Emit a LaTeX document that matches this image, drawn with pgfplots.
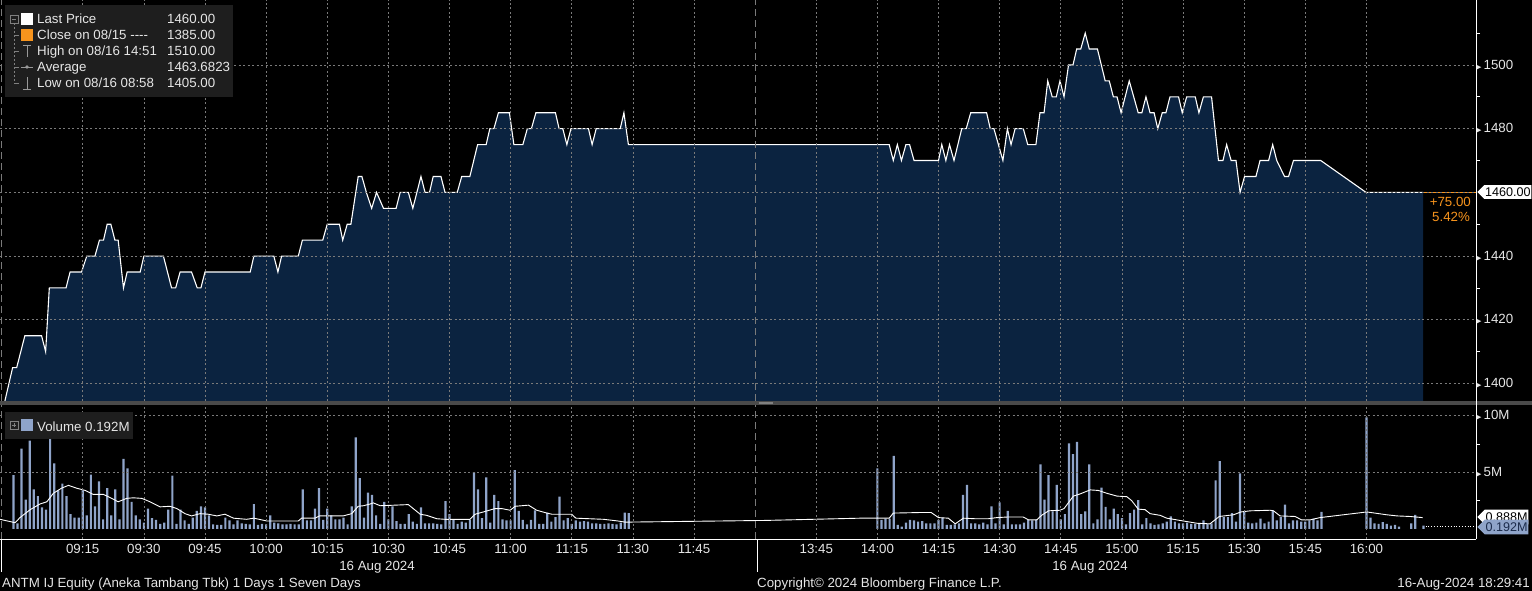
\documentclass[border=0pt]{standalone}
\usepackage{pgfplots}
\pgfplotsset{compat=1.18}
\usepackage{pgfplotstable}
\usepackage{fontspec}
\setmainfont{Liberation Sans}
\newfontfamily\symfont{DejaVu Sans}
\usetikzlibrary{shapes.symbols}

\definecolor{areac}{HTML}{0B2340}
\definecolor{gridc}{HTML}{7A7A7A}
\definecolor{volc}{HTML}{8FA4C9}
\definecolor{txtc}{HTML}{E6E6E6}
\definecolor{orc}{HTML}{F7941D}
\definecolor{legbg}{HTML}{1E1E1E}
\definecolor{sepc}{HTML}{4A4A4A}
\definecolor{voltxt}{HTML}{1B2B4B}

\newcommand{\tri}{{\symfont\fontsize{7}{7}\selectfont ▶}\hspace{2pt}}
\newcommand{\bbfont}{\fontsize{13.3}{15}\selectfont}
\newcommand{\tagfont}{\fontsize{12.6}{14}\selectfont}

% x = trading minutes from 09:00, lunch break (12:00-13:30) removed
\pgfplotstableread{
t p
-4.1 1394.5
-2.2 1405
-1.2 1405
0.8 1415
4.9 1415
5.9 1410
6.8 1430
10.9 1430
11.9 1435
14.7 1435
16.0 1440
18.0 1440
19.1 1445
20.1 1445
21.0 1450
21.9 1450
22.9 1445
23.7 1445
25.0 1430
25.9 1435
29.1 1435
30.0 1440
34.8 1440
36.8 1430
37.8 1430
38.9 1435
41.7 1435
43.1 1430
44.0 1430
45.0 1435
56.1 1435
57.0 1440
61.9 1440
62.9 1435
63.8 1440
67.9 1440
68.9 1445
73.9 1445
75.0 1450
78.0 1450
78.8 1445
79.9 1450
80.8 1450
82.6 1465
83.5 1465
84.6 1460
85.9 1455
87.1 1460
88.8 1455
91.9 1455
92.9 1460
94.9 1460
96.0 1455
98.0 1465
99.0 1460
100.1 1460
101.0 1465
102.9 1465
103.9 1460
106.9 1460
108.0 1465
110.0 1465
111.9 1475
114.0 1475
114.9 1480
115.9 1480
117.0 1485
119.7 1485
120.8 1475
123.0 1475
124.1 1480
125.1 1480
126.2 1485
131.0 1485
131.9 1480
132.8 1480
133.8 1475
134.8 1480
139.1 1480
140.0 1475
141.0 1480
146.9 1480
147.8 1485
148.9 1475
212.9 1475
213.9 1470
214.9 1475
215.9 1470
217.0 1475
217.9 1475
219.0 1470
225.0 1470
225.8 1475
226.8 1470
227.7 1475
228.8 1470
230.7 1480
231.8 1480
232.9 1485
236.8 1485
237.7 1480
238.6 1480
240.8 1470
241.9 1480
242.8 1475
243.8 1480
245.8 1480
246.9 1475
248.9 1475
249.9 1485
250.9 1485
251.8 1495
252.9 1490
253.9 1490
254.8 1495
255.8 1490
256.9 1500
258.0 1500
258.9 1505
259.9 1505
261.0 1510
262.0 1505
264.0 1505
265.9 1495
266.9 1495
267.9 1490
268.8 1490
269.8 1485
271.8 1495
274.0 1485
274.9 1485
275.9 1490
276.9 1485
277.9 1485
278.8 1480
279.9 1485
280.8 1485
281.8 1490
283.9 1490
284.8 1485
285.9 1490
288.0 1490
288.9 1485
290.0 1490
292.0 1490
293.7 1470
294.8 1470
295.7 1475
296.8 1470
298.0 1470
299.0 1460
300.1 1465
302.9 1465
303.9 1470
306.0 1470
307.0 1475
308.0 1470
309.9 1465
310.9 1465
312.1 1470
318.8 1470
329.9 1460
343.9 1460
}\price

\pgfplotstableread{
t v
-2 4.76
-1 0.5
0 7.1
1 2.6
2 7.8
3 3.5
4 2.9
5 1.9
6 1.7
7 8.1
8 5.8
9 3.4
10 4.0
11 2.9
12 1.3
13 1.0
14 1.0
15 3.4
16 1.2
17 4.8
18 2.0
19 4.2
20 0.85
21 3.6
22 1.2
23 3.5
24 0.85
25 6.2
26 5.35
27 2.4
28 1.2
29 0.85
30 0.55
31 1.8
32 0.95
33 0.8
34 0.45
35 0.55
36 1.7
37 4.7
38 0.45
39 1.7
40 0.75
41 0.45
42 1.0
43 1.6
44 2.0
45 1.9
46 1.2
47 0.4
48 0.35
49 0.35
50 1.0
51 0.75
52 0.4
53 0.75
54 0.5
55 0.45
56 0.4
57 2.2
58 0.35
59 0.45
60 0.4
61 1.2
62 0.55
63 0.5
64 0.4
65 0.4
66 0.45
67 0.4
68 0.4
69 3.5
70 0.75
71 0.75
72 1.8
73 3.6
74 0.8
75 1.8
76 1.2
77 0.85
78 0.85
79 1.0
80 0.4
81 2.0
82 8.1
83 4.5
84 1.0
85 3.2
86 3.0
87 1.2
88 0.45
89 2.4
90 0.85
91 2.0
92 0.7
93 0.45
94 0.45
95 1.3
96 0.65
97 0.45
98 1.9
99 0.5
100 0.5
101 0.5
102 0.45
103 0.4
104 2.45
105 1.3
106 0.85
107 0.45
108 0.65
109 0.55
110 0.8
111 5.0
112 3.5
113 0.95
114 4.55
115 0.55
116 3.0
117 2.45
118 0.85
119 0.75
120 0.75
121 5.2
122 1.6
123 0.8
124 0.4
125 0.8
126 1.65
127 0.45
128 0.45
129 1.45
130 0.65
131 1.05
132 2.85
133 0.75
134 0.95
135 0.45
136 0.75
137 0.65
138 0.7
139 0.65
140 0.5
141 0.5
142 0.45
143 0.45
144 0.5
145 0.45
146 0.4
147 0.55
148 1.45
149 1.4
210 5.35
211 0.8
212 0.9
213 0.9
214 6.45
215 0.35
216 0.2
217 0.55
218 0.8
219 0.75
220 0.65
221 0.7
222 0.5
223 0.5
224 0.5
225 0.8
226 1.0
227 0.35
228 0.35
229 0.4
230 0.5
231 3.0
232 3.9
233 0.5
234 0.5
235 0.4
236 0.55
237 0.4
238 2.0
239 0.5
240 2.35
241 0.4
242 1.6
243 0.4
244 0.4
245 0.4
246 0.55
247 0.8
248 0.75
249 0.8
250 5.7
251 2.6
252 4.75
253 1.55
254 3.9
255 0.85
256 1.3
257 7.55
258 6.6
259 7.7
260 1.3
261 1.55
262 5.7
263 0.5
264 0.85
265 3.65
266 1.95
267 0.85
268 1.8
269 1.3
270 0.95
271 0.4
272 1.4
273 1.7
274 2.55
275 0.4
276 0.95
277 0.5
278 0.35
279 0.4
280 0.5
281 0.65
282 1.1
283 0.65
284 0.5
285 0.5
286 0.55
287 0.45
288 0.45
289 0.45
290 0.75
291 0.45
292 0.5
293 4.3
294 6.0
295 1.05
296 1.05
297 1.4
298 0.65
299 4.9
300 1.5
301 0.55
302 0.5
303 0.55
304 0.9
305 0.5
306 0.65
307 1.65
308 0.75
309 1.05
310 2.15
311 0.5
312 0.75
313 0.75
314 0.65
315 0.65
316 0.75
317 0.9
318 0.75
319 1.5
330 9.85
331 1.0
332 0.5
333 0.45
334 0.6
335 0.45
336 0.3
337 0.35
338 0.2
341 0.5
342 1.25
344 0.3
}\voltab

\pgfplotstableread{
t m
-5.3 0.85
-1.6 0.55
-0.4 1.0
2.1 1.7
4.5 2.2
6.2 2.4
7.8 3.15
9.8 3.6
11.5 3.85
13.5 3.6
15.6 3.4
17.6 3.05
20.1 3.05
22.1 2.7
23.7 2.4
25.8 2.7
27.4 2.75
29.5 2.7
31.5 2.4
34.0 1.95
36.4 2.0
38.1 1.8
40.1 1.35
41.7 1.15
43.8 1.35
45.8 1.3
47.9 1.15
49.9 1.3
52.0 0.95
55.2 0.85
57.0 0.95
60.2 0.7
64.2 0.7
67.9 0.7
68.7 0.95
72.0 0.95
73.1 1.15
78.9 1.15
81.0 1.35
82.6 2.0
83.9 2.05
85.5 2.2
86.3 2.3
88.0 2.05
91.6 2.1
94.9 2.15
96.1 1.8
97.8 1.3
99.4 1.2
101.9 0.9
103.9 0.85
110.0 0.85
111.3 1.3
113.3 1.5
116.2 1.8
117.8 1.8
119.9 1.65
121.1 2.0
124.4 2.1
126.4 1.65
128.9 1.4
130.1 1.3
135.0 1.3
136.0 0.95
142.8 0.85
146.4 0.7
148.1 0.6
182.4 0.75
205.8 0.95
212.9 0.95
213.9 1.4
220.5 1.45
223.2 1.45
225.0 1.0
227.4 0.95
229.1 0.45
231.1 0.95
234.0 0.9
237.2 0.9
239.3 1.0
241.8 1.05
245.8 1.05
247.1 0.8
249.1 0.8
250.3 1.2
252.0 1.6
254.8 1.65
255.8 1.8
258.1 2.9
259.8 3.1
262.2 3.45
264.2 3.4
266.3 3.15
268.8 2.9
271.2 2.85
272.4 2.5
274.0 1.75
275.7 1.7
276.9 1.35
279.4 1.2
281.0 0.95
285.1 0.7
288.4 0.5
291.6 0.45
293.9 1.1
297.4 1.25
299.2 1.5
301.5 1.6
306.4 1.65
307.2 1.6
308.8 1.15
312.5 1.1
314.1 0.8
316.2 0.8
318.6 1.0
330.1 1.5
335.0 1.25
337.5 1.15
340.7 1.1
343.8 1.0
}\matab

\pgfplotsset{bbg/.style={
  scale only axis, width=1476pt,
  xmin=-5.3, xmax=356.9,
  axis line style={draw=none},
  xtick={15,30,45,60,75,90,105,120,135,150,165,195,210,225,240,255,270,285,300,315,330},
  major tick length=0pt, minor tick length=4pt,
  tick align=outside,
  tick style={white, line width=0.8pt},
  ytick pos=right, yticklabel pos=right,
  xtick pos=bottom,
  grid=major,
  major grid style={gridc, line width=0.7pt, dash pattern=on 2pt off 2.5pt},
  extra x ticks={-5.06,180},
  extra x tick labels={},
  extra x tick style={major grid style={gridc, line width=0.8pt, dash pattern=on 7pt off 4pt}},
  tick label style={font=\bbfont, text=txtc},
  yticklabel style={anchor=west, inner sep=0pt},
  axis on top,
}}

\begin{document}
\begin{tikzpicture}[font=\bbfont]
\fill[black] (0pt,0pt) rectangle (1532pt,-591pt);

% price panel
\begin{axis}[bbg,
  at={(0pt,0pt)}, anchor=north west, height=401pt,
  ymin=1394.5, ymax=1520.4,
  xticklabels={},
  ytick={1400,1420,1440,1460,1480,1500},
  yticklabels={\tri1400,\tri1420,\tri1440,{},\tri1480,\tri1500},
  minor ytick={1410,1430,1450,1470,1490,1510},
]
\addplot[fill=areac, draw=none] table[x=t, y=p] {\price} \closedcycle;
\addplot[white, line width=1.1pt] table[x=t, y=p] {\price};
\addplot[orc, line width=1.1pt] coordinates {(343.9,1460) (356.9,1460)};
\end{axis}

% volume panel
\begin{axis}[bbg,
  at={(0pt,-405pt)}, anchor=north west, height=134pt,
  ymin=-0.89, ymax=10.95,
  xticklabels={09:15,09:30,09:45,10:00,10:15,10:30,10:45,11:00,11:15,11:30,11:45,13:45,14:00,14:15,14:30,14:45,15:00,15:15,15:30,15:45,16:00},
  xticklabel style={yshift=-2pt},
  ytick={5,10},
  yticklabels={\tri5M,\tri10M},
  minor ytick={2.5,7.5},
]
\addplot[ybar, bar width=2.2pt, bar shift=0pt, fill=volc, draw=none] table[x=t, y=v] {\voltab};
\addplot[white, line width=0.9pt] table[x=t, y=m] {\matab};
\addplot[white, dotted, line width=0.8pt] coordinates {(344.5,0.192) (356.9,0.192)};
\end{axis}

% frame lines
\fill[sepc] (0pt,-401pt) rectangle (1532pt,-405pt);
\fill[gray] (759pt,-402pt) rectangle (773pt,-404pt);
\draw[white, line width=1pt] (1476pt,0pt) -- (1476pt,-539pt);
\draw[white, line width=1pt] (0pt,-539pt) -- (1476pt,-539pt);
\draw[white, line width=1pt] (1pt,-539pt) -- (1pt,-572pt);
\draw[white, line width=1pt] (757pt,-539pt) -- (757pt,-572pt);

% price legend
\fill[legbg] (5pt,-5pt) rectangle (233pt,-97pt);
\draw[gray, line width=0.7pt] (10pt,-15pt) rectangle (18pt,-23pt);
\draw[gray, line width=0.7pt] (12pt,-19pt) -- (16pt,-19pt);
\draw[gray, line width=0.7pt, dash pattern=on 2pt off 2pt] (14pt,-23pt) -- (14pt,-83pt);
\foreach \yy in {35,51,67,83} \draw[gray, line width=0.7pt] (14pt,-\yy pt) -- (19pt,-\yy pt);
\fill[white] (21pt,-13pt) rectangle (33pt,-25pt);
\fill[orc] (21pt,-29pt) rectangle (33pt,-41pt);
\draw[gray!80!white, line width=0.8pt] (27pt,-45pt) -- (27pt,-57pt) (23pt,-45pt) -- (31pt,-45pt);
\draw[gray!80!white, line width=0.8pt] (21pt,-67pt) -- (33pt,-67pt);
\fill[gray!80!white] (27pt,-67pt) circle (1.8pt);
\draw[gray!80!white, line width=0.8pt] (27pt,-77pt) -- (27pt,-89pt) (23pt,-89pt) -- (31pt,-89pt);
\begin{scope}[every node/.style={text=txtc, inner sep=0pt, anchor=base west}]
\node at (37pt,-24pt) {Last Price};
\node at (37pt,-40pt) {Close on 08/15 {-}{-}{-}{-}};
\node at (37pt,-56pt) {High on 08/16 14:51};
\node at (37pt,-72pt) {Average};
\node at (37pt,-88pt) {Low on 08/16 08:58};
\node at (167pt,-24pt) {1460.00};
\node at (167pt,-40pt) {1385.00};
\node at (167pt,-56pt) {1510.00};
\node at (167pt,-72pt) {1463.6823};
\node at (167pt,-88pt) {1405.00};
\end{scope}

% volume legend
\fill[legbg] (5pt,-412pt) rectangle (133pt,-439pt);
\draw[gray, line width=0.7pt] (10pt,-421pt) rectangle (18pt,-429pt);
\draw[gray, line width=0.7pt] (12pt,-425pt) -- (16pt,-425pt) (14pt,-423pt) -- (14pt,-427pt);
\fill[volc] (21pt,-419pt) rectangle (33pt,-431pt);
\node[text=txtc, inner sep=0pt, anchor=base west] at (37pt,-431pt) {Volume 0.192M};

% last value tags
\node[signal, signal to=west, fill=white, text=black, font=\tagfont, inner xsep=0.8pt, inner ysep=2.5pt, anchor=west] at (1477pt,-192pt) {1460.00};
\node[text=orc, anchor=east, inner sep=0pt] at (1471pt,-202pt) {+75.00};
\node[text=orc, anchor=west, inner sep=0pt] at (1432pt,-217pt) {5.42\%};
\node[signal, signal to=west, fill=white, text=black, font=\tagfont, inner xsep=0.8pt, inner ysep=3pt, anchor=west] at (1477pt,-517pt) {0.888M};
\node[signal, signal to=west, fill=volc, text=voltxt, font=\tagfont, inner xsep=0.8pt, inner ysep=3pt, anchor=west] at (1477pt,-527pt) {0.192M};

% dates and footer
\node[text=txtc, inner sep=0pt, anchor=base] at (377pt,-570pt) {16 Aug 2024};
\node[text=txtc, inner sep=0pt, anchor=base] at (1090pt,-570pt) {16 Aug 2024};
\node[text=txtc, inner sep=0pt, anchor=base west] at (2pt,-587pt) {ANTM IJ Equity (Aneka Tambang Tbk) 1 Days 1 Seven Days};
\node[text=txtc, inner sep=0pt, anchor=base west] at (757pt,-587pt) {Copyright© 2024 Bloomberg Finance L.P.};
\node[text=txtc, inner sep=0pt, anchor=base east] at (1530pt,-587pt) {16-Aug-2024 18:29:41};

\pgfresetboundingbox
\useasboundingbox (0pt,0pt) rectangle (1532pt,-591pt);
\end{tikzpicture}
\end{document}
